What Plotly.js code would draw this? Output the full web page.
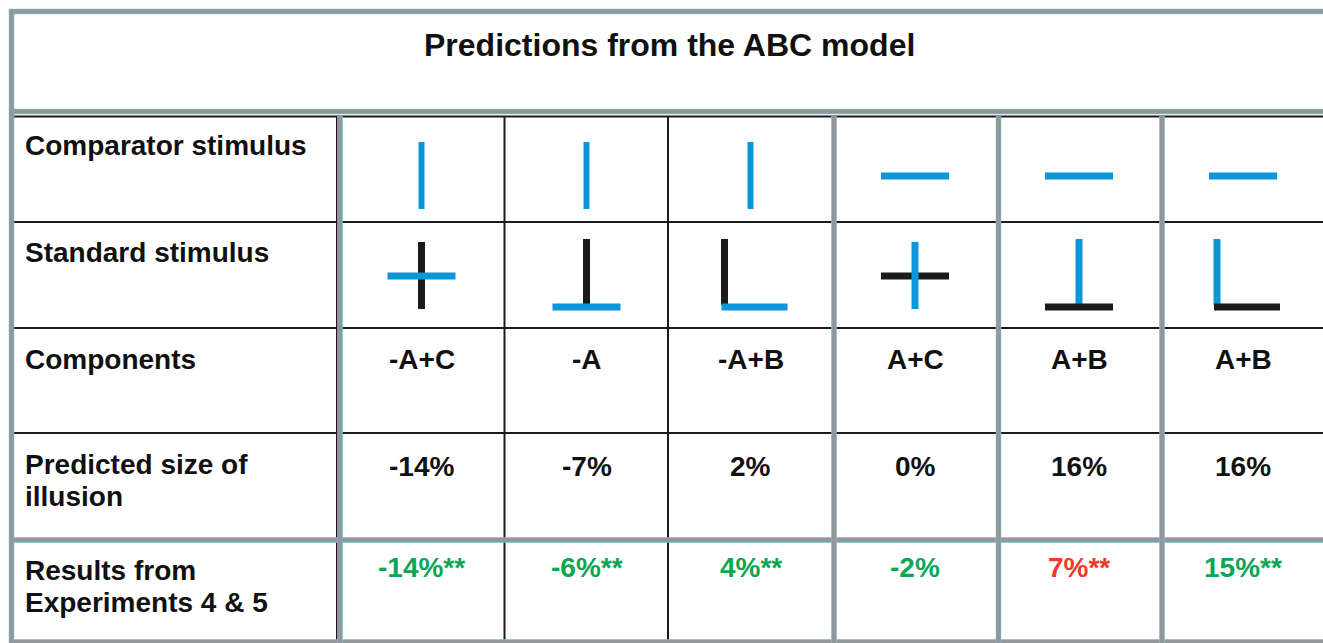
<!DOCTYPE html>
<html>
<head>
<meta charset="utf-8">
<script src="https://cdn.plot.ly/plotly-3.0.1.min.js"></script>
<style>
  html, body { margin: 0; padding: 0; background: #ffffff; }
  #chart { width: 1323px; height: 643px; }
</style>
</head>
<body>
<div id="chart"></div>
<script>
// ---------------- data ----------------
const chartTitle = 'Predictions from the ABC model';
const rowLabels = ['Comparator stimulus', 'Standard stimulus', 'Components',
                   'Predicted size of<br>illusion', 'Results from<br>Experiments 4 & 5'];
const comparatorOrientation = ['vertical', 'vertical', 'vertical', 'horizontal', 'horizontal', 'horizontal'];
const standardShape = ['cross', 'inverted-T', 'L', 'cross', 'inverted-T', 'L'];
const components = ['-A+C', '-A', '-A+B', 'A+C', 'A+B', 'A+B'];
const predictedPct = [-14, -7, 2, 0, 16, 16];
const resultPct = [-14, -6, 4, -2, 7, 15];
const resultSignificant = [true, true, true, false, true, true];
const resultMatchesPrediction = [true, true, true, true, false, true];

// ---------------- layout helpers ----------------
const W = 1323, H = 643;
const colEdges = [14, 338, 505, 668, 833, 997, 1161, 1325];
const BLUE = '#0a96d8', BLACK = '#1b1b1b', GRAY = '#92989a', EDGE = '#7fc2e0';
const GREEN = '#0aa653', RED = '#ef3a2a';
const FONT = 'Liberation Sans, Arial, Helvetica, sans-serif';

const shapes = [];
const annotations = [];

function seg(x0, y0, x1, y1, color, width) {
  shapes.push({type: 'line', xref: 'x', yref: 'y', x0, y0, x1, y1,
               line: {color, width}, layer: 'above'});
}
function grayLine(x0, y0, x1, y1) {
  seg(x0, y0, x1, y1, EDGE, 5.5);
  seg(x0, y0, x1, y1, GRAY, 4.5);
}

// black horizontal row rules
seg(14, 116.5, W, 116.5, BLACK, 2);
[222, 328, 433].forEach(y => seg(14, y, W, y, BLACK, 2));
// black vertical column rules
seg(337, 116, 337, H, BLACK, 2);
seg(504.5, 116, 504.5, H, BLACK, 2);
seg(668, 116, 668, H, BLACK, 2);
// gray rules
grayLine(9, 11.5, W, 11.5);      // outer top
grayLine(11.5, 9, 11.5, H);      // outer left
grayLine(14, 111.5, W, 111.5);   // under title
grayLine(14, 540, W, 540);       // above results
grayLine(14, 642, W, 642);       // bottom
grayLine(340, 116, 340, H);
grayLine(834, 116, 834, H);
grayLine(998.5, 116, 998.5, H);
grayLine(1162, 116, 1162, H);

// column centres
const cx = components.map((_, i) => (colEdges[i + 1] + colEdges[i + 2]) / 2);

// comparator stimuli
comparatorOrientation.forEach((o, i) => {
  const c = cx[i];
  if (o === 'vertical') seg(c, 142, c, 209, BLUE, 6);
  else seg(c - 34, 176, c + 34, 176, BLUE, 7);
});

// standard stimuli: bar parallel to comparator is black, perpendicular is blue
standardShape.forEach((s, i) => {
  const c = cx[i];
  const vCol = comparatorOrientation[i] === 'vertical' ? BLACK : BLUE;
  const hCol = comparatorOrientation[i] === 'vertical' ? BLUE : BLACK;
  if (s === 'cross') {
    if (vCol === BLUE) { seg(c - 34, 276, c + 34, 276, hCol, 7); seg(c, 242, c, 309, vCol, 7); }
    else { seg(c, 242, c, 309, vCol, 7); seg(c - 34, 276, c + 34, 276, hCol, 7); }
  } else if (s === 'inverted-T') {
    seg(c, 239, c, 305, vCol, 7);
    seg(c - 34, 307, c + 34, 307, hCol, 7);
  } else {
    seg(c - 26, 239, c - 26, 305, vCol, 7);
    seg(c - 29, 307, c + 37, 307, hCol, 7);
  }
});

// title
annotations.push({xref: 'x', yref: 'y', x: 669, y: 45, text: chartTitle, showarrow: false,
  xanchor: 'center', yanchor: 'middle', font: {family: FONT, size: 32, color: '#111', weight: 'bold'}});

// row labels (each line placed separately to match the tighter line spacing)
const labelY = [145, 252, 359, 464, 570];
rowLabels.forEach((t, r) => {
  t.split('<br>').forEach((line, k) => {
    annotations.push({xref: 'x', yref: 'y', x: 23, y: labelY[r] + k * 32, text: line, showarrow: false,
      xanchor: 'left', yanchor: 'middle', align: 'left',
      font: {family: FONT, size: 28, color: '#111', weight: 'bold'}});
  });
});

// cell texts
components.forEach((t, i) => {
  annotations.push({xref: 'x', yref: 'y', x: cx[i], y: 359, text: t, showarrow: false,
    xanchor: 'center', yanchor: 'middle', font: {family: FONT, size: 28, color: '#111', weight: 'bold'}});
  annotations.push({xref: 'x', yref: 'y', x: cx[i], y: 466, text: predictedPct[i] + '%', showarrow: false,
    xanchor: 'center', yanchor: 'middle', font: {family: FONT, size: 28, color: '#111', weight: 'bold'}});
  annotations.push({xref: 'x', yref: 'y', x: cx[i], y: 567,
    text: resultPct[i] + '%' + (resultSignificant[i] ? '**' : ''), showarrow: false,
    xanchor: 'center', yanchor: 'middle',
    font: {family: FONT, size: 28, color: resultMatchesPrediction[i] ? GREEN : RED, weight: 'bold'}});
});

const data = [{x: [0], y: [0], type: 'scatter', mode: 'markers', marker: {opacity: 0}, hoverinfo: 'skip', showlegend: false}];
const layout = {
  width: W, height: H,
  margin: {l: 0, r: 0, t: 0, b: 0, pad: 0},
  paper_bgcolor: '#ffffff', plot_bgcolor: '#ffffff',
  xaxis: {range: [0, W], visible: false, fixedrange: true},
  yaxis: {range: [H, 0], visible: false, fixedrange: true},
  showlegend: false,
  shapes, annotations
};
Plotly.newPlot('chart', data, layout, {displayModeBar: false, staticPlot: true});
</script>
</body>
</html>
